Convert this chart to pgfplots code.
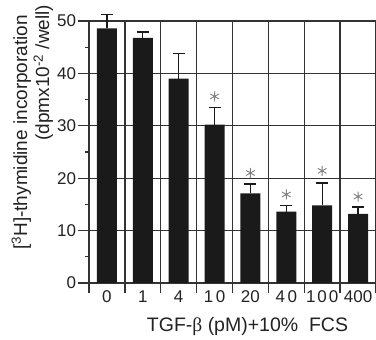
\documentclass[border=0pt]{standalone}
\usepackage{pgfplots}
\pgfplotsset{compat=1.18}
\usepackage{fontspec}
\setmainfont{Liberation Sans}
\newfontfamily\grk{Liberation Serif}
\definecolor{ink}{HTML}{222222}
\definecolor{gridc}{HTML}{333333}
\definecolor{barc}{HTML}{1A1A1A}
\definecolor{starc}{HTML}{808080}
\begin{document}
\begin{tikzpicture}
\begin{axis}[
  scale only axis,
  width=287pt, height=262pt,
  xmin=-0.5, xmax=7.5, ymin=0, ymax=50,
  axis lines*=left,
  axis line style={gridc, line width=1.3pt},
  /pgf/number format/assume math mode=true,
  tick align=outside,
  tick style={gridc, line width=1.3pt},
  major tick length=10.5pt,
  minor tick length=4pt,
  xtick={-0.5,0.5,...,7.5},
  xticklabels={},
  xmajorgrids=true,
  ytick={0,10,...,50},
  minor y tick num=1,
  ymajorgrids=true,
  grid style={gridc, line width=1.3pt},
  extra x ticks={0,1,2,3,4,5,6,7},
  extra x tick labels={0,1,4,1\kern2.5pt0,20,4\kern2.5pt0,1\kern2pt0\kern2pt0,400},
  extra x tick style={major tick length=0pt, grid=none, tick label style={yshift=-4pt}},
  tick label style={font=\fontsize{17}{20}\selectfont, text=ink},
  yticklabel style={xshift=1pt},
  xlabel={TGF-{\grk β} (pM)+10\%~~FCS},
  xlabel style={font=\fontsize{19.5}{23}\selectfont, text=ink, xshift=15pt, yshift=3pt},
  ylabel={[\textsuperscript{3}H]-thymidine incorporation\hspace*{10pt}\\(dpmx10\textsuperscript{-2} /well)},
  ylabel style={font=\fontsize{19}{22}\selectfont, text=ink, align=right, at={(ticklabel cs:0.594)}, yshift=-3pt},
  clip=false,
]
\addplot[ybar, bar width=0.557, fill=barc, draw=none,
  error bars/.cd, y dir=plus, y explicit,
  error bar style={barc, line width=1.2pt},
  error mark options={rotate=90, mark size=6pt, line width=1.2pt, barc}]
  coordinates {
  (0,48.6) +- (0,2.7)
  (1,46.8) +- (0,1.1)
  (2,39.0) +- (0,4.8)
  (3,30.2) +- (0,3.3)
  (4,17.1) +- (0,1.8)
  (5,13.6) +- (0,1.2)
  (6,14.8) +- (0,4.3)
  (7,13.2) +- (0,1.3)
  };
\addplot[only marks, mark=asterisk, mark size=5pt, starc, mark options={line width=0.9pt}]
  coordinates {(3,35.6) (4,21.0) (5,16.9) (6,21.4) (7,16.5)};
\coordinate (ll) at (rel axis cs:0,0);
\coordinate (ur) at (rel axis cs:1,1);
\end{axis}
\pgfresetboundingbox
\path ([shift={(-89pt,-57pt)}]ll) rectangle ([shift={(0pt,21pt)}]ur);
\end{tikzpicture}
\end{document}
